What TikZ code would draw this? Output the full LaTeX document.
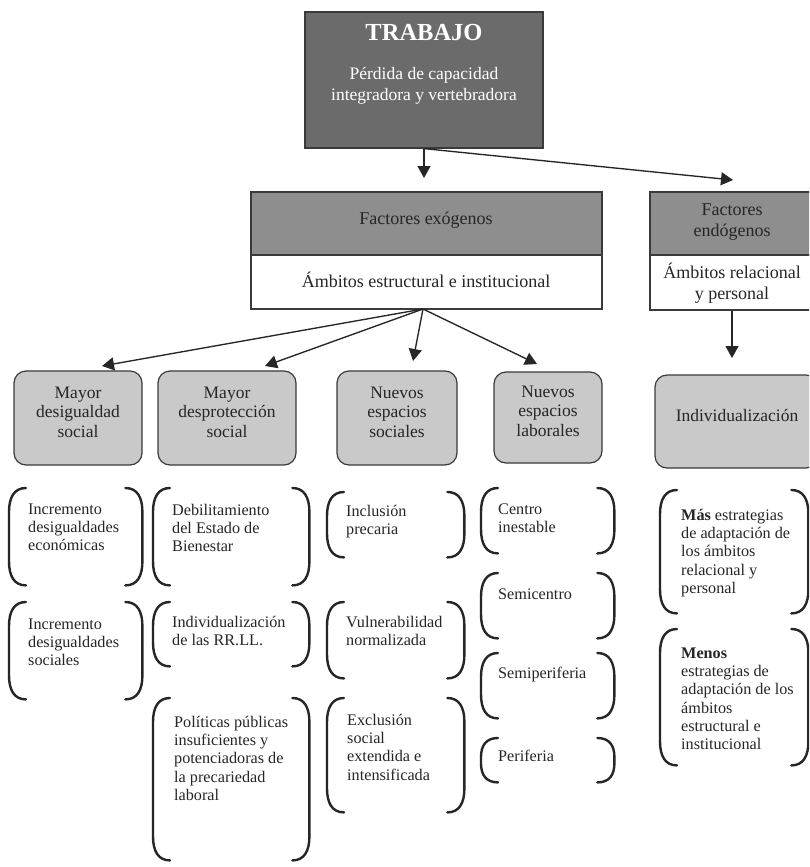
\documentclass[tikz,border=0pt]{standalone}
\usepackage{fontspec}
\setmainfont{Liberation Serif}
\usetikzlibrary{arrows.meta,calc}
\definecolor{dkg}{HTML}{6B6B6B}
\definecolor{mdg}{HTML}{8E8E8E}
\definecolor{ltg}{HTML}{C9C9C9}
\definecolor{ink}{HTML}{262626}
\definecolor{edgec}{HTML}{3A3A3A}
\newcommand\mystrut{\rule{0pt}{15pt}}
\newcommand\parens[2][24]{%
\draw[paren] ($(#2.north west)+(17,0)$) .. controls ($(#2.north west)+(5,0)$) and ($(#2.north west)+(0,0.4*#1)$) .. ($(#2.north west)+(0,#1)$) -- ($(#2.south west)+(0,-#1)$) .. controls ($(#2.south west)+(0,-0.4*#1)$) and ($(#2.south west)+(5,0)$) .. ($(#2.south west)+(17,0)$);
\draw[paren] ($(#2.north east)+(-17,0)$) .. controls ($(#2.north east)+(-5,0)$) and ($(#2.north east)+(0,0.4*#1)$) .. ($(#2.north east)+(0,#1)$) -- ($(#2.south east)+(0,-#1)$) .. controls ($(#2.south east)+(0,-0.4*#1)$) and ($(#2.south east)+(-5,0)$) .. ($(#2.south east)+(-17,0)$);
}
\tikzset{
 box/.style={draw=edgec, line width=1.2pt, inner sep=0pt, rectangle},
 gbox/.style={box, fill=ltg, rounded corners=12pt},
 brk/.style={rectangle, inner sep=0pt, draw=none, anchor=north west},
 hd/.style={font=\fontsize{18}{21}\selectfont, text=ink, align=center, inner sep=0pt},
 gt/.style={font=\fontsize{17.5}{19.5}\selectfont, text=ink, align=center, inner sep=0pt},
 bt/.style={font=\fontsize{16.2}{18.3}\selectfont, text=ink, align=left, inner sep=0pt, anchor=north west},
 arr/.style={draw=ink, line width=1.35pt, -{Triangle[length=12pt,width=13pt]}},
 paren/.style={draw=ink, line width=2.4pt, line cap=round},
}
\begin{document}
\begin{tikzpicture}[x=1pt,y=-1pt]
\useasboundingbox (0,0) rectangle (809,867);
\fill[white] (0,0) rectangle (809,867);
\clip (0,0) rectangle (809,867);

% TRABAJO
\node[box, fill=dkg, minimum width=238pt, minimum height=136pt] (trab) at (424,80) {};
\node[text=white, font=\bfseries\fontsize{24.5}{28}\selectfont, inner sep=0pt] (trabT) at (424,33) {TRABAJO};
\node[text=white, font=\fontsize{17.5}{21}\selectfont, align=center, inner sep=0pt] (trabS) at (424,86) {Pérdida de capacidad\\integradora y vertebradora};

% Factores exogenos
\node[box, fill=mdg, minimum width=351pt, minimum height=63pt] (exoH) at (426.5,223.5) {};
\node[box, fill=white, minimum width=351pt, minimum height=54pt] (exoB) at (426.5,282) {};
\node[hd] (exoHT) at (426,220) {Factores exógenos};
\node[hd] (exoBT) at (426,280) {Ámbitos estructural e institucional};

% Factores endogenos
\node[box, fill=mdg, minimum width=164pt, minimum height=63pt] (endH) at (732,223.5) {};
\node[box, fill=white, minimum width=164pt, minimum height=55pt] (endB) at (732,282.5) {};
\node[hd] (endHT) at (732,222) {Factores\\endógenos};
\node[hd] (endBT) at (732,283) {Ámbitos relacional\\y personal};

% arrows top
\coordinate (exoIn) at (424,178);
\coordinate (endIn) at (733,180);
\draw[arr] (trab.south) -- (exoIn);
\draw[arr] (trab.south) -- (endIn);

% gray boxes
\node[gbox, minimum width=128pt, minimum height=94pt] (g1) at (78,418) {};
\node[gbox, minimum width=138pt, minimum height=94pt] (g2) at (227,418) {};
\node[gbox, minimum width=120pt, minimum height=94pt] (g3) at (397,418) {};
\node[gbox, minimum width=108pt, minimum height=91pt] (g4) at (548,417.5) {};
\node[gbox, minimum width=163pt, minimum height=93pt] (g5) at (736.5,421.5) {};
\node[gt] (g1T) at (78,412) {Mayor\\desigualdad\\social};
\node[gt] (g2T) at (227,412) {Mayor\\desprotección\\social};
\node[gt] (g3T) at (397,412) {Nuevos\\espacios\\sociales};
\node[gt] (g4T) at (548,411) {Nuevos\\espacios\\laborales};
\node[gt] (g5T) at (737,415) {Individualización};

% fan arrows
\coordinate (fanO) at (423,309);
\coordinate (t1) at (102,366);
\coordinate (t2) at (265,366);
\coordinate (t3) at (413,361);
\coordinate (t4) at (537,364);
\coordinate (t5) at (732,358);
\draw[arr] (fanO) -- (t1);
\draw[arr] (fanO) -- (t2);
\draw[arr] (fanO) -- (t3);
\draw[arr] (fanO) -- (t4);
\draw[arr] (endB.south) -- (t5);

% brackets column 1
\node[brk, minimum width=133pt, minimum height=97pt] (c1a) at (9,488) {};
\node[brk, minimum width=133pt, minimum height=97pt] (c1b) at (9,602) {};
% column 2
\node[brk, minimum width=156pt, minimum height=97pt] (c2a) at (153,488) {};
\node[brk, minimum width=156pt, minimum height=64pt] (c2b) at (153,602) {};
\node[brk, minimum width=156pt, minimum height=162pt] (c2c) at (153,698) {};
% column 3
\node[brk, minimum width=137pt, minimum height=65pt] (c3a) at (327,492) {};
\node[brk, minimum width=137pt, minimum height=76pt] (c3b) at (327,602) {};
\node[brk, minimum width=137pt, minimum height=114pt] (c3c) at (327,698) {};
% column 4
\node[brk, minimum width=133pt, minimum height=65pt] (c4a) at (481,488) {};
\node[brk, minimum width=133pt, minimum height=65pt] (c4b) at (481,573) {};
\node[brk, minimum width=133pt, minimum height=65pt] (c4c) at (481,653) {};
\node[brk, minimum width=133pt, minimum height=44pt] (c4d) at (481,738) {};
% column 5
\node[brk, minimum width=148pt, minimum height=123pt] (c5a) at (660,490) {};
\node[brk, minimum width=148pt, minimum height=136pt] (c5b) at (660,629) {};

\parens{c1a}\parens{c1b}
\parens{c2a}\parens{c2b}\parens{c2c}
\parens{c3a}\parens{c3b}\parens{c3c}
\parens{c4a}\parens{c4b}\parens{c4c}\parens[19]{c4d}
\parens{c5a}\parens{c5b}

% bracket texts
\node[bt] (c1aT) at (28,499) {\mystrut Incremento\\desigualdades\\económicas};
\node[bt] (c1bT) at (28,614) {\mystrut Incremento\\desigualdades\\sociales};
\node[bt] (c2aT) at (172,500) {\mystrut Debilitamiento\\del Estado de\\Bienestar};
\node[bt] (c2bT) at (172,612) {\mystrut Individualización\\de las RR.LL.};
\node[bt] (c2cT) at (174,712) {\mystrut Políticas públicas\\insuficientes y\\potenciadoras de\\la precariedad\\laboral};
\node[bt] (c3aT) at (346,501) {\mystrut Inclusión\\precaria};
\node[bt] (c3bT) at (346,612) {\mystrut Vulnerabilidad\\normalizada};
\node[bt] (c3cT) at (347,710) {\mystrut Exclusión\\social\\extendida e\\intensificada};
\node[bt] (c4aT) at (498,499) {\mystrut Centro\\inestable};
\node[bt] (c4bT) at (498,584) {\mystrut Semicentro};
\node[bt] (c4cT) at (498,663) {\mystrut Semiperiferia};
\node[bt] (c4dT) at (498,746) {\mystrut Periferia};
\node[bt] (c5aT) at (681,505) {\mystrut\textbf{Más} estrategias\\de adaptación de\\los ámbitos\\relacional y\\personal};
\node[bt] (c5bT) at (681,643) {\mystrut\textbf{Menos}\\estrategias de\\adaptación de los\\ámbitos\\estructural e\\institucional};
\end{tikzpicture}
\end{document}
